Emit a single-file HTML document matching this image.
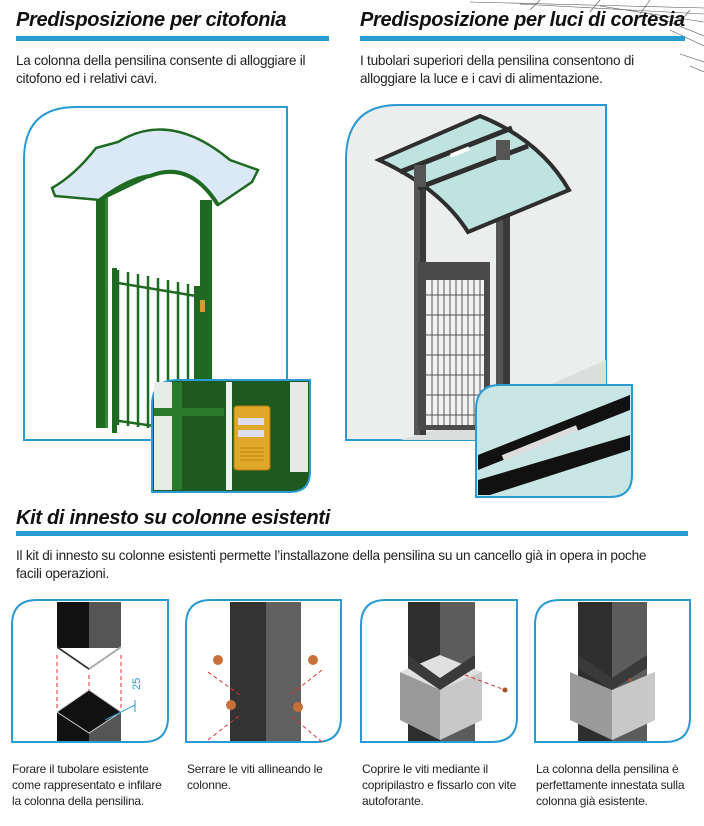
<!DOCTYPE html>
<html><head><meta charset="utf-8"><style>
body{margin:0;width:704px;height:826px;background:#fff;overflow:hidden;position:relative;font-family:"Liberation Sans",sans-serif;color:#222}
.t{position:absolute;font-weight:bold;font-style:italic;font-size:20px;color:#111;letter-spacing:-0.3px;white-space:nowrap}
.bar{position:absolute;height:5px;background:#2a9bd2}
.p{position:absolute;font-size:13.6px;line-height:18px;letter-spacing:-0.25px;white-space:nowrap}
.c{position:absolute;font-size:12px;line-height:16px;letter-spacing:-0.2px;white-space:nowrap}
svg{position:absolute;left:0;top:0}
</style></head><body>
<svg width="704" height="826" viewBox="0 0 704 826">
<g stroke="#555" stroke-width="0.6" fill="none">
<path d="M470 2 L704 8 M520 4 L704 14 M600 6 L704 22 M650 14 L704 36 M670 30 L704 46 M680 54 L704 62 M690 66 L704 72"/>
<path d="M540 0 L530 10 M600 0 L590 12 M650 0 L640 14 M690 10 L680 22"/>
</g>
<!-- LEFT PANEL -->
<path d="M24 440 L24 160 Q24 107 76 107 L287 107 L287 440 Z" fill="#fff" stroke="#2a9bd2" stroke-width="2"/>
<rect x="96" y="182" width="11" height="246" fill="#1f6a22"/>
<rect x="200" y="200" width="12" height="230" fill="#1f6a22"/>
<rect x="105" y="182" width="3" height="246" fill="#2f8a33"/>
<g stroke="#1f6a22" stroke-width="2.5">
<line x1="112" y1="282" x2="196" y2="296"/><line x1="112" y1="420" x2="196" y2="432"/>
<line x1="118" y1="270" x2="118" y2="425"/><line x1="128" y1="272" x2="128" y2="426"/><line x1="138" y1="274" x2="138" y2="427"/>
<line x1="148" y1="276" x2="148" y2="428"/><line x1="158" y1="278" x2="158" y2="429"/><line x1="168" y1="280" x2="168" y2="430"/>
<line x1="178" y1="282" x2="178" y2="431"/><line x1="188" y1="284" x2="188" y2="432"/>
</g>
<rect x="112" y="268" width="5" height="165" fill="#1f6a22"/>
<rect x="194" y="286" width="6" height="148" fill="#1f6a22"/>
<rect x="200" y="300" width="5" height="12" fill="#c8a030"/>
<path d="M52 188 Q75 175 96 148 L118 142 Q170 110 230 160 L258 170 L252 182 L218 205 Q190 160 150 176 Q120 190 100 200 L55 196 Z" fill="#dbe9f7" stroke="#1f6a22" stroke-width="2.5"/>
<path d="M100 200 Q130 178 150 176 Q190 160 218 205" fill="none" stroke="#1f6a22" stroke-width="4"/>
<!-- left inset -->
<path d="M152 492 L152 405 Q152 380 177 380 L310 380 L310 472 Q310 492 290 492 Z" fill="#1e5a20" stroke="#2a9bd2" stroke-width="2"/>
<rect x="154" y="382" width="24" height="108" fill="#e8ece8"/>
<rect x="226" y="382" width="6" height="108" fill="#f0f0f0"/>
<rect x="290" y="382" width="18" height="90" fill="#e8e8e8"/>
<rect x="172" y="382" width="10" height="108" fill="#2a7a2c"/>
<rect x="154" y="408" width="70" height="8" fill="#2a7a2c"/>
<rect x="234" y="406" width="36" height="64" rx="3" fill="#e0a828" stroke="#b07a10"/>
<rect x="238" y="418" width="26" height="7" fill="#dde"/><rect x="238" y="430" width="26" height="7" fill="#dde"/>
<g stroke="#b07a10" stroke-width="0.8"><line x1="240" y1="448" x2="264" y2="448"/><line x1="240" y1="452" x2="264" y2="452"/><line x1="240" y1="456" x2="264" y2="456"/><line x1="240" y1="460" x2="264" y2="460"/></g>
<!-- RIGHT PANEL -->
<path d="M346 440 L346 160 Q346 105 398 105 L606 105 L606 440 Z" fill="#eceeee" stroke="#2a9bd2" stroke-width="2"/>
<path d="M346 440 L400 440 L470 420 L606 360 L606 440 Z" fill="#dcdede"/>
<rect x="414" y="165" width="12" height="270" fill="#555"/><rect x="420" y="165" width="6" height="270" fill="#3a3a3a"/>
<rect x="496" y="140" width="14" height="290" fill="#555"/><rect x="503" y="140" width="7" height="290" fill="#3a3a3a"/>
<path d="M379 160 L480 116 Q540 140 569 190 L468 232 Q440 188 379 160 Z" fill="#bfe3df" stroke="#2e2e2e" stroke-width="4"/>
<line x1="400" y1="172" x2="512" y2="128" stroke="#2e2e2e" stroke-width="5"/>
<line x1="418" y1="188" x2="528" y2="146" stroke="#2e2e2e" stroke-width="5"/>
<rect x="450" y="150" width="20" height="4" fill="#fff" transform="rotate(-22 460 152)"/>
<rect x="414" y="165" width="12" height="22" fill="#555"/><rect x="496" y="140" width="14" height="20" fill="#555"/>
<rect x="418" y="262" width="72" height="168" fill="#4a4a4a"/>
<rect x="426" y="280" width="58" height="145" fill="#f2f2f2"/>
<g stroke="#555" stroke-width="1">
<path d="M432 280V425M438 280V425M444 280V425M450 280V425M456 280V425M462 280V425M468 280V425M474 280V425M480 280V425"/>
<path d="M426 295H484M426 315H484M426 335H484M426 355H484M426 375H484M426 395H484M426 415H484"/>
</g>
<!-- right inset -->
<path d="M476 497 L476 410 Q476 385 500 385 L632 385 L632 475 Q632 497 610 497 Z" fill="#c9e6e4" stroke="#2a9bd2" stroke-width="2"/>
<path d="M478 455 L630 395 L630 410 L478 470 Z" fill="#111"/>
<path d="M478 480 L630 435 L630 450 L490 495 L478 495 Z" fill="#111"/>
<rect x="500" y="440" width="80" height="6" fill="#ddd" transform="rotate(-22 540 443)"/>
<!-- BOTTOM PANELS -->
<g fill="#fff" stroke="#2a9bd2" stroke-width="2">
<path d="M12 742 L12 625 Q12 600 37 600 L168 600 L168 717 Q168 742 143 742 Z"/>
<path d="M186 742 L186 625 Q186 600 211 600 L341 600 L341 717 Q341 742 316 742 Z"/>
<path d="M361 742 L361 625 Q361 600 386 600 L517 600 L517 717 Q517 742 492 742 Z"/>
<path d="M535 742 L535 625 Q535 600 560 600 L690 600 L690 717 Q690 742 665 742 Z"/>
</g>
<rect x="57" y="602" width="32" height="46" fill="#111"/><rect x="89" y="602" width="32" height="46" fill="#555"/>
<path d="M57 646 L89 668 L121 646 L121 648 L89 670 L57 648Z" fill="#777"/>
<path d="M57 646 L89 668 L89 670 L57 648 Z" fill="#333"/><path d="M89 668 L121 646 L121 648 L89 670Z" fill="#aaa"/>
<rect x="57" y="712" width="32" height="29" fill="#111"/><rect x="89" y="712" width="32" height="29" fill="#555"/>
<path d="M57 712 L89 690 L121 712 L89 733 Z" fill="#111" stroke="#ccc"/>
<g stroke="#d33" stroke-dasharray="4 3" fill="none"><path d="M57 655V710M89 675V690M121 655V710"/></g>
<path d="M105 720 L135 705 M135 700 V712" stroke="#2a9bd2" fill="none"/>
<text x="140" y="690" font-size="11" fill="#2a9bd2" transform="rotate(-90 140 690)">25</text>
<rect x="230" y="602" width="36" height="139" fill="#333"/><rect x="266" y="602" width="35" height="139" fill="#606060"/>
<g stroke="#d33" stroke-dasharray="4 3"><path d="M208 672L240 695M322 670L290 695M208 740L240 715M322 742L290 715"/></g>
<g fill="#c8703a"><circle cx="218" cy="660" r="5"/><circle cx="313" cy="660" r="5"/><circle cx="231" cy="705" r="5"/><circle cx="298" cy="707" r="5"/></g>
<rect x="408" y="602" width="32" height="139" fill="#2e2e2e"/><rect x="440" y="602" width="35" height="139" fill="#5c5c5c"/>
<path d="M400 672 L440 690 L482 672 L482 720 L440 740 L400 720 Z" fill="#9a9a9a"/>
<path d="M440 690 L482 672 L482 720 L440 740 Z" fill="#c8c8c8"/>
<path d="M400 672 L440 655 L482 672 L440 690 Z" fill="#e0e0e0"/>
<path d="M408 668 L440 690 L475 668 L475 655 L440 678 L408 655Z" fill="#3a3a3a"/>
<line x1="465" y1="675" x2="505" y2="690" stroke="#d33" stroke-dasharray="4 3"/>
<circle cx="505" cy="690" r="2.5" fill="#a0522d"/>
<rect x="578" y="602" width="34" height="139" fill="#2e2e2e"/><rect x="612" y="602" width="35" height="139" fill="#5c5c5c"/>
<path d="M570 672 L612 690 L655 672 L655 720 L612 740 L570 720 Z" fill="#9a9a9a"/>
<path d="M612 690 L655 672 L655 720 L612 740 Z" fill="#c8c8c8"/>
<path d="M578 668 L612 690 L647 668 L647 655 L612 678 L578 655Z" fill="#3a3a3a"/>
<circle cx="630" cy="680" r="2" fill="#a0522d"/>
</svg>
<div class="t" style="left:16px;top:9px">Predisposizione per citofonia</div>
<div class="bar" style="left:16px;top:36px;width:313px"></div>
<div class="t" style="left:360px;top:9px">Predisposizione per luci di cortesia</div>
<div class="bar" style="left:360px;top:36px;width:325px"></div>
<div class="p" style="left:16px;top:52px">La colonna della pensilina consente di alloggiare il<br>citofono ed i relativi cavi.</div>
<div class="p" style="left:360px;top:52px">I tubolari superiori della pensilina consentono di<br>alloggiare la luce e i cavi di alimentazione.</div>
<div class="t" style="left:16px;top:507px">Kit di innesto su colonne esistenti</div>
<div class="bar" style="left:16px;top:531px;width:672px"></div>
<div class="p" style="left:16px;top:547px">Il kit di innesto su colonne esistenti permette l’installazone della pensilina su un cancello già in opera in poche<br>facili operazioni.</div>
<div class="c" style="left:12px;top:761px">Forare il tubolare esistente<br>come rappresentato e infilare<br>la colonna della pensilina.</div>
<div class="c" style="left:187px;top:761px">Serrare le viti allineando le<br>colonne.</div>
<div class="c" style="left:362px;top:761px">Coprire le viti mediante il<br>copripilastro e fissarlo con vite<br>autoforante.</div>
<div class="c" style="left:536px;top:761px">La colonna della pensilina è<br>perfettamente innestata sulla<br>colonna già esistente.</div>
</body></html>
